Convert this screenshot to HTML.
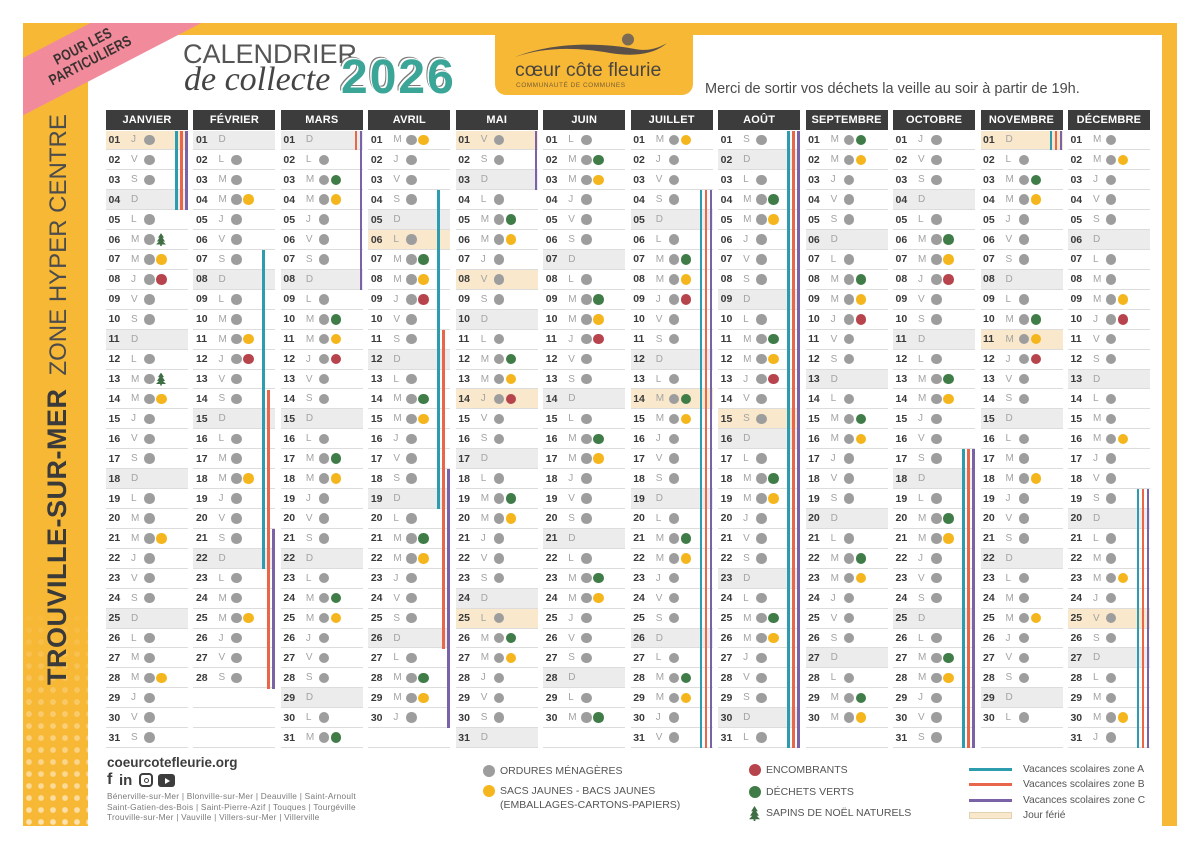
<!DOCTYPE html>
<html lang="fr"><head><meta charset="utf-8">
<style>
*{margin:0;padding:0;box-sizing:border-box}
body{width:1200px;height:849px;position:relative;overflow:hidden;background:#fff;font-family:"Liberation Sans",sans-serif}
.a{position:absolute}
#frame{left:23px;top:23px;width:1154px;height:803px;background:#f7b836}
#inner{left:88px;top:35px;width:1074px;height:791px;background:#fff}
#logo{left:495px;top:33px;width:198px;height:62px;background:#f7b836;border-radius:0 0 11px 11px}
.dots{left:23px;top:600px;width:65px;height:226px;background-image:radial-gradient(circle,rgba(255,255,255,.6) 2.6px,transparent 3.1px);background-size:12px 12px;-webkit-mask-image:linear-gradient(to bottom,transparent 0%,rgba(0,0,0,.4) 45%,#000 100%);mask-image:linear-gradient(to bottom,transparent 0%,rgba(0,0,0,.4) 45%,#000 100%)}
#clip{left:23px;top:23px;width:300px;height:200px;overflow:hidden}
#band{position:absolute;left:-136px;top:4.8px;width:400px;height:51px;background:#f18b9c;transform:rotate(-27.4deg);display:flex;flex-direction:column;align-items:center;justify-content:center}
#band span{display:block;font-weight:bold;font-size:15px;line-height:16px;color:#3b3230;transform:scaleX(.8);letter-spacing:.3px}
.vt{left:43.5px;top:685px;transform-origin:0 0;transform:rotate(-90deg);white-space:nowrap;line-height:27px;height:27px}
.vt .b1{font-weight:bold;font-size:27px;color:#3a3a3a;letter-spacing:.5px}
.vt .b2{font-size:24px;color:#4c4c4c;margin-left:13px}
.col{position:absolute;top:110px;width:82px}
.hd{height:20px;background:#3c3c3c;color:#fff;font-weight:bold;font-size:11px;text-align:center;line-height:20px;letter-spacing:.2px}
.rows{position:absolute;top:20.5px;left:0;width:82px}
.rows p{height:19.93px;border-bottom:1px solid #dcdcdc;display:flex;align-items:center;padding-left:2.5px;white-space:nowrap}
.rows p.s{background:#ececec}
.rows p.h{background:#f9e8cb}
u{text-decoration:none;font-weight:bold;font-size:10.5px;color:#3a3a3a;width:22.5px;display:inline-block}
.rows i{font-style:normal;font-size:10px;color:#a3a3a3;width:13px;display:inline-block}
.rows b{width:10.5px;height:10.5px;border-radius:50%;background:#9d9d9d;margin-right:1.5px;display:inline-block;flex:none}
b.y{background:#f4b61c!important}
b.g{background:#3f7c47!important}
b.r{background:#b7444c!important}
b.t{background:#3f6e45!important;border-radius:0!important;height:13px!important;width:10px!important;clip-path:polygon(50% 0,80% 35%,65% 35%,90% 65%,70% 65%,100% 88%,58% 88%,58% 100%,42% 100%,42% 88%,0 88%,30% 65%,10% 65%,35% 35%,20% 35%)}
.v{position:absolute;width:2.5px}
.A{background:#2d9cae;left:69px}.B{background:#e8664a;left:74px}.C{background:#7a62a6;left:79px}
.lg{font-size:10.5px;color:#555;line-height:12px;white-space:nowrap}
.ld{width:12px;height:12px;border-radius:50%}
.lz{font-size:10.2px;color:#555;line-height:12px;white-space:nowrap}
</style></head><body>
<div id="frame" class="a"></div>
<div class="a dots"></div>
<div id="inner" class="a"></div>
<div id="logo" class="a">
<svg width="198" height="62" style="position:absolute;left:0;top:0">
<path d="M20,24 C60,8 110,10 140,16 C155,19 165,14 172,10 C160,21 140,24 115,20 C80,14 50,14 20,24 Z" fill="#5a5048"/>
<circle cx="133" cy="6.5" r="6" fill="#7d6a55"/>
</svg>
<div class="a" style="left:20px;top:28px;font-size:19.5px;line-height:19px;color:#4a4540;white-space:nowrap">cœur côte fleurie</div>
<div class="a" style="left:21px;top:49px;font-size:6.5px;letter-spacing:.5px;color:#7a6030;white-space:nowrap">COMMUNAUTÉ DE COMMUNES</div>
</div>
<div id="clip" class="a"><div id="band"><span>POUR LES</span><span>PARTICULIERS</span></div></div>
<div class="a vt"><span class="b1">TROUVILLE-SUR-MER</span><span class="b2">ZONE HYPER CENTRE</span></div>

<div class="a" style="left:183px;top:41px;font-size:27px;line-height:27px;color:#555;white-space:nowrap;font-weight:300">CALENDRIER</div>
<div class="a" style="left:184px;top:62.5px;font-family:'Liberation Serif',serif;font-style:italic;font-size:34px;line-height:34px;color:#444;white-space:nowrap">de collecte</div>
<div class="a" style="left:341px;top:54.4px;font-size:48px;line-height:48px;font-weight:bold;color:#3ba597;letter-spacing:2px;text-shadow:-1.5px -1.5px 0 #fff,-2.5px -2.5px 0 #7a7a7a">2026</div>
<div class="a" style="left:705px;top:82px;font-size:14.5px;line-height:15px;color:#4a4a4a;white-space:nowrap">Merci de sortir vos déchets la veille au soir à partir de 19h.</div>

<!-- JANVIER -->
<div class="col" style="left:106px"><div class="hd">JANVIER</div><div class="rows">
<p class=h><u>01</u><i>J</i><b></b></p><p><u>02</u><i>V</i><b></b></p><p><u>03</u><i>S</i><b></b></p><p class=s><u>04</u><i>D</i></p><p><u>05</u><i>L</i><b></b></p><p><u>06</u><i>M</i><b></b><b class=t></b></p><p><u>07</u><i>M</i><b></b><b class=y></b></p><p><u>08</u><i>J</i><b></b><b class=r></b></p><p><u>09</u><i>V</i><b></b></p><p><u>10</u><i>S</i><b></b></p><p class=s><u>11</u><i>D</i></p><p><u>12</u><i>L</i><b></b></p><p><u>13</u><i>M</i><b></b><b class=t></b></p><p><u>14</u><i>M</i><b></b><b class=y></b></p><p><u>15</u><i>J</i><b></b></p><p><u>16</u><i>V</i><b></b></p><p><u>17</u><i>S</i><b></b></p><p class=s><u>18</u><i>D</i></p><p><u>19</u><i>L</i><b></b></p><p><u>20</u><i>M</i><b></b></p><p><u>21</u><i>M</i><b></b><b class=y></b></p><p><u>22</u><i>J</i><b></b></p><p><u>23</u><i>V</i><b></b></p><p><u>24</u><i>S</i><b></b></p><p class=s><u>25</u><i>D</i></p><p><u>26</u><i>L</i><b></b></p><p><u>27</u><i>M</i><b></b></p><p><u>28</u><i>M</i><b></b><b class=y></b></p><p><u>29</u><i>J</i><b></b></p><p><u>30</u><i>V</i><b></b></p><p><u>31</u><i>S</i><b></b></p>
</div>
<div class="v A" style="top:20.5px;height:79.72px"></div><div class="v B" style="top:20.5px;height:79.72px"></div><div class="v C" style="top:20.5px;height:79.72px"></div>
</div>

<!-- FEVRIER -->
<div class="col" style="left:193.45px"><div class="hd">FÉVRIER</div><div class="rows">
<p class=s><u>01</u><i>D</i></p><p><u>02</u><i>L</i><b></b></p><p><u>03</u><i>M</i><b></b></p><p><u>04</u><i>M</i><b></b><b class=y></b></p><p><u>05</u><i>J</i><b></b></p><p><u>06</u><i>V</i><b></b></p><p><u>07</u><i>S</i><b></b></p><p class=s><u>08</u><i>D</i></p><p><u>09</u><i>L</i><b></b></p><p><u>10</u><i>M</i><b></b></p><p><u>11</u><i>M</i><b></b><b class=y></b></p><p><u>12</u><i>J</i><b></b><b class=r></b></p><p><u>13</u><i>V</i><b></b></p><p><u>14</u><i>S</i><b></b></p><p class=s><u>15</u><i>D</i></p><p><u>16</u><i>L</i><b></b></p><p><u>17</u><i>M</i><b></b></p><p><u>18</u><i>M</i><b></b><b class=y></b></p><p><u>19</u><i>J</i><b></b></p><p><u>20</u><i>V</i><b></b></p><p><u>21</u><i>S</i><b></b></p><p class=s><u>22</u><i>D</i></p><p><u>23</u><i>L</i><b></b></p><p><u>24</u><i>M</i><b></b></p><p><u>25</u><i>M</i><b></b><b class=y></b></p><p><u>26</u><i>J</i><b></b></p><p><u>27</u><i>V</i><b></b></p><p><u>28</u><i>S</i><b></b></p><p></p><p></p><p></p>
</div>
<div class="v A" style="top:140.08px;height:318.88px"></div><div class="v B" style="top:279.59px;height:298.95px"></div><div class="v C" style="top:419.1px;height:159.44px"></div>
</div>

<!-- MARS -->
<div class="col" style="left:280.9px"><div class="hd">MARS</div><div class="rows">
<p class=s><u>01</u><i>D</i></p><p><u>02</u><i>L</i><b></b></p><p><u>03</u><i>M</i><b></b><b class=g></b></p><p><u>04</u><i>M</i><b></b><b class=y></b></p><p><u>05</u><i>J</i><b></b></p><p><u>06</u><i>V</i><b></b></p><p><u>07</u><i>S</i><b></b></p><p class=s><u>08</u><i>D</i></p><p><u>09</u><i>L</i><b></b></p><p><u>10</u><i>M</i><b></b><b class=g></b></p><p><u>11</u><i>M</i><b></b><b class=y></b></p><p><u>12</u><i>J</i><b></b><b class=r></b></p><p><u>13</u><i>V</i><b></b></p><p><u>14</u><i>S</i><b></b></p><p class=s><u>15</u><i>D</i></p><p><u>16</u><i>L</i><b></b></p><p><u>17</u><i>M</i><b></b><b class=g></b></p><p><u>18</u><i>M</i><b></b><b class=y></b></p><p><u>19</u><i>J</i><b></b></p><p><u>20</u><i>V</i><b></b></p><p><u>21</u><i>S</i><b></b></p><p class=s><u>22</u><i>D</i></p><p><u>23</u><i>L</i><b></b></p><p><u>24</u><i>M</i><b></b><b class=g></b></p><p><u>25</u><i>M</i><b></b><b class=y></b></p><p><u>26</u><i>J</i><b></b></p><p><u>27</u><i>V</i><b></b></p><p><u>28</u><i>S</i><b></b></p><p class=s><u>29</u><i>D</i></p><p><u>30</u><i>L</i><b></b></p><p><u>31</u><i>M</i><b></b><b class=g></b></p>
</div>
<div class="v B" style="top:20.5px;height:19.93px"></div><div class="v C" style="top:20.5px;height:159.44px"></div>
</div>

<!-- AVRIL -->
<div class="col" style="left:368.35px"><div class="hd">AVRIL</div><div class="rows">
<p><u>01</u><i>M</i><b></b><b class=y></b></p><p><u>02</u><i>J</i><b></b></p><p><u>03</u><i>V</i><b></b></p><p><u>04</u><i>S</i><b></b></p><p class=s><u>05</u><i>D</i></p><p class=h><u>06</u><i>L</i><b></b></p><p><u>07</u><i>M</i><b></b><b class=g></b></p><p><u>08</u><i>M</i><b></b><b class=y></b></p><p><u>09</u><i>J</i><b></b><b class=r></b></p><p><u>10</u><i>V</i><b></b></p><p><u>11</u><i>S</i><b></b></p><p class=s><u>12</u><i>D</i></p><p><u>13</u><i>L</i><b></b></p><p><u>14</u><i>M</i><b></b><b class=g></b></p><p><u>15</u><i>M</i><b></b><b class=y></b></p><p><u>16</u><i>J</i><b></b></p><p><u>17</u><i>V</i><b></b></p><p><u>18</u><i>S</i><b></b></p><p class=s><u>19</u><i>D</i></p><p><u>20</u><i>L</i><b></b></p><p><u>21</u><i>M</i><b></b><b class=g></b></p><p><u>22</u><i>M</i><b></b><b class=y></b></p><p><u>23</u><i>J</i><b></b></p><p><u>24</u><i>V</i><b></b></p><p><u>25</u><i>S</i><b></b></p><p class=s><u>26</u><i>D</i></p><p><u>27</u><i>L</i><b></b></p><p><u>28</u><i>M</i><b></b><b class=g></b></p><p><u>29</u><i>M</i><b></b><b class=y></b></p><p><u>30</u><i>J</i><b></b></p><p></p>
</div>
<div class="v A" style="top:80.29px;height:318.88px"></div><div class="v B" style="top:219.8px;height:318.88px"></div><div class="v C" style="top:359.31px;height:259.09px"></div>
</div>

<!-- MAI -->
<div class="col" style="left:455.8px"><div class="hd">MAI</div><div class="rows">
<p class=h><u>01</u><i>V</i><b></b></p><p><u>02</u><i>S</i><b></b></p><p class=s><u>03</u><i>D</i></p><p><u>04</u><i>L</i><b></b></p><p><u>05</u><i>M</i><b></b><b class=g></b></p><p><u>06</u><i>M</i><b></b><b class=y></b></p><p><u>07</u><i>J</i><b></b></p><p class=h><u>08</u><i>V</i><b></b></p><p><u>09</u><i>S</i><b></b></p><p class=s><u>10</u><i>D</i></p><p><u>11</u><i>L</i><b></b></p><p><u>12</u><i>M</i><b></b><b class=g></b></p><p><u>13</u><i>M</i><b></b><b class=y></b></p><p class=h><u>14</u><i>J</i><b></b><b class=r></b></p><p><u>15</u><i>V</i><b></b></p><p><u>16</u><i>S</i><b></b></p><p class=s><u>17</u><i>D</i></p><p><u>18</u><i>L</i><b></b></p><p><u>19</u><i>M</i><b></b><b class=g></b></p><p><u>20</u><i>M</i><b></b><b class=y></b></p><p><u>21</u><i>J</i><b></b></p><p><u>22</u><i>V</i><b></b></p><p><u>23</u><i>S</i><b></b></p><p class=s><u>24</u><i>D</i></p><p class=h><u>25</u><i>L</i><b></b></p><p><u>26</u><i>M</i><b></b><b class=g></b></p><p><u>27</u><i>M</i><b></b><b class=y></b></p><p><u>28</u><i>J</i><b></b></p><p><u>29</u><i>V</i><b></b></p><p><u>30</u><i>S</i><b></b></p><p class=s><u>31</u><i>D</i></p>
</div>
<div class="v C" style="top:20.5px;height:59.79px"></div>
</div>

<!-- JUIN -->
<div class="col" style="left:543.25px"><div class="hd">JUIN</div><div class="rows">
<p><u>01</u><i>L</i><b></b></p><p><u>02</u><i>M</i><b></b><b class=g></b></p><p><u>03</u><i>M</i><b></b><b class=y></b></p><p><u>04</u><i>J</i><b></b></p><p><u>05</u><i>V</i><b></b></p><p><u>06</u><i>S</i><b></b></p><p class=s><u>07</u><i>D</i></p><p><u>08</u><i>L</i><b></b></p><p><u>09</u><i>M</i><b></b><b class=g></b></p><p><u>10</u><i>M</i><b></b><b class=y></b></p><p><u>11</u><i>J</i><b></b><b class=r></b></p><p><u>12</u><i>V</i><b></b></p><p><u>13</u><i>S</i><b></b></p><p class=s><u>14</u><i>D</i></p><p><u>15</u><i>L</i><b></b></p><p><u>16</u><i>M</i><b></b><b class=g></b></p><p><u>17</u><i>M</i><b></b><b class=y></b></p><p><u>18</u><i>J</i><b></b></p><p><u>19</u><i>V</i><b></b></p><p><u>20</u><i>S</i><b></b></p><p class=s><u>21</u><i>D</i></p><p><u>22</u><i>L</i><b></b></p><p><u>23</u><i>M</i><b></b><b class=g></b></p><p><u>24</u><i>M</i><b></b><b class=y></b></p><p><u>25</u><i>J</i><b></b></p><p><u>26</u><i>V</i><b></b></p><p><u>27</u><i>S</i><b></b></p><p class=s><u>28</u><i>D</i></p><p><u>29</u><i>L</i><b></b></p><p><u>30</u><i>M</i><b></b><b class=g></b></p><p></p>
</div></div>

<!-- JUILLET -->
<div class="col" style="left:630.7px"><div class="hd">JUILLET</div><div class="rows">
<p><u>01</u><i>M</i><b></b><b class=y></b></p><p><u>02</u><i>J</i><b></b></p><p><u>03</u><i>V</i><b></b></p><p><u>04</u><i>S</i><b></b></p><p class=s><u>05</u><i>D</i></p><p><u>06</u><i>L</i><b></b></p><p><u>07</u><i>M</i><b></b><b class=g></b></p><p><u>08</u><i>M</i><b></b><b class=y></b></p><p><u>09</u><i>J</i><b></b><b class=r></b></p><p><u>10</u><i>V</i><b></b></p><p><u>11</u><i>S</i><b></b></p><p class=s><u>12</u><i>D</i></p><p><u>13</u><i>L</i><b></b></p><p class=h><u>14</u><i>M</i><b></b><b class=g></b></p><p><u>15</u><i>M</i><b></b><b class=y></b></p><p><u>16</u><i>J</i><b></b></p><p><u>17</u><i>V</i><b></b></p><p><u>18</u><i>S</i><b></b></p><p class=s><u>19</u><i>D</i></p><p><u>20</u><i>L</i><b></b></p><p><u>21</u><i>M</i><b></b><b class=g></b></p><p><u>22</u><i>M</i><b></b><b class=y></b></p><p><u>23</u><i>J</i><b></b></p><p><u>24</u><i>V</i><b></b></p><p><u>25</u><i>S</i><b></b></p><p class=s><u>26</u><i>D</i></p><p><u>27</u><i>L</i><b></b></p><p><u>28</u><i>M</i><b></b><b class=g></b></p><p><u>29</u><i>M</i><b></b><b class=y></b></p><p><u>30</u><i>J</i><b></b></p><p><u>31</u><i>V</i><b></b></p>
</div>
<div class="v A" style="top:80.29px;height:558.04px"></div><div class="v B" style="top:80.29px;height:558.04px"></div><div class="v C" style="top:80.29px;height:558.04px"></div>
</div>

<!-- AOUT -->
<div class="col" style="left:718.15px"><div class="hd">AOÛT</div><div class="rows">
<p><u>01</u><i>S</i><b></b></p><p class=s><u>02</u><i>D</i></p><p><u>03</u><i>L</i><b></b></p><p><u>04</u><i>M</i><b></b><b class=g></b></p><p><u>05</u><i>M</i><b></b><b class=y></b></p><p><u>06</u><i>J</i><b></b></p><p><u>07</u><i>V</i><b></b></p><p><u>08</u><i>S</i><b></b></p><p class=s><u>09</u><i>D</i></p><p><u>10</u><i>L</i><b></b></p><p><u>11</u><i>M</i><b></b><b class=g></b></p><p><u>12</u><i>M</i><b></b><b class=y></b></p><p><u>13</u><i>J</i><b></b><b class=r></b></p><p><u>14</u><i>V</i><b></b></p><p class=h><u>15</u><i>S</i><b></b></p><p class=s><u>16</u><i>D</i></p><p><u>17</u><i>L</i><b></b></p><p><u>18</u><i>M</i><b></b><b class=g></b></p><p><u>19</u><i>M</i><b></b><b class=y></b></p><p><u>20</u><i>J</i><b></b></p><p><u>21</u><i>V</i><b></b></p><p><u>22</u><i>S</i><b></b></p><p class=s><u>23</u><i>D</i></p><p><u>24</u><i>L</i><b></b></p><p><u>25</u><i>M</i><b></b><b class=g></b></p><p><u>26</u><i>M</i><b></b><b class=y></b></p><p><u>27</u><i>J</i><b></b></p><p><u>28</u><i>V</i><b></b></p><p><u>29</u><i>S</i><b></b></p><p class=s><u>30</u><i>D</i></p><p><u>31</u><i>L</i><b></b></p>
</div>
<div class="v A" style="top:20.5px;height:617.83px"></div><div class="v B" style="top:20.5px;height:617.83px"></div><div class="v C" style="top:20.5px;height:617.83px"></div>
</div>

<!-- SEPTEMBRE -->
<div class="col" style="left:805.6px"><div class="hd">SEPTEMBRE</div><div class="rows">
<p><u>01</u><i>M</i><b></b><b class=g></b></p><p><u>02</u><i>M</i><b></b><b class=y></b></p><p><u>03</u><i>J</i><b></b></p><p><u>04</u><i>V</i><b></b></p><p><u>05</u><i>S</i><b></b></p><p class=s><u>06</u><i>D</i></p><p><u>07</u><i>L</i><b></b></p><p><u>08</u><i>M</i><b></b><b class=g></b></p><p><u>09</u><i>M</i><b></b><b class=y></b></p><p><u>10</u><i>J</i><b></b><b class=r></b></p><p><u>11</u><i>V</i><b></b></p><p><u>12</u><i>S</i><b></b></p><p class=s><u>13</u><i>D</i></p><p><u>14</u><i>L</i><b></b></p><p><u>15</u><i>M</i><b></b><b class=g></b></p><p><u>16</u><i>M</i><b></b><b class=y></b></p><p><u>17</u><i>J</i><b></b></p><p><u>18</u><i>V</i><b></b></p><p><u>19</u><i>S</i><b></b></p><p class=s><u>20</u><i>D</i></p><p><u>21</u><i>L</i><b></b></p><p><u>22</u><i>M</i><b></b><b class=g></b></p><p><u>23</u><i>M</i><b></b><b class=y></b></p><p><u>24</u><i>J</i><b></b></p><p><u>25</u><i>V</i><b></b></p><p><u>26</u><i>S</i><b></b></p><p class=s><u>27</u><i>D</i></p><p><u>28</u><i>L</i><b></b></p><p><u>29</u><i>M</i><b></b><b class=g></b></p><p><u>30</u><i>M</i><b></b><b class=y></b></p><p></p>
</div></div>

<!-- OCTOBRE -->
<div class="col" style="left:893.05px"><div class="hd">OCTOBRE</div><div class="rows">
<p><u>01</u><i>J</i><b></b></p><p><u>02</u><i>V</i><b></b></p><p><u>03</u><i>S</i><b></b></p><p class=s><u>04</u><i>D</i></p><p><u>05</u><i>L</i><b></b></p><p><u>06</u><i>M</i><b></b><b class=g></b></p><p><u>07</u><i>M</i><b></b><b class=y></b></p><p><u>08</u><i>J</i><b></b><b class=r></b></p><p><u>09</u><i>V</i><b></b></p><p><u>10</u><i>S</i><b></b></p><p class=s><u>11</u><i>D</i></p><p><u>12</u><i>L</i><b></b></p><p><u>13</u><i>M</i><b></b><b class=g></b></p><p><u>14</u><i>M</i><b></b><b class=y></b></p><p><u>15</u><i>J</i><b></b></p><p><u>16</u><i>V</i><b></b></p><p><u>17</u><i>S</i><b></b></p><p class=s><u>18</u><i>D</i></p><p><u>19</u><i>L</i><b></b></p><p><u>20</u><i>M</i><b></b><b class=g></b></p><p><u>21</u><i>M</i><b></b><b class=y></b></p><p><u>22</u><i>J</i><b></b></p><p><u>23</u><i>V</i><b></b></p><p><u>24</u><i>S</i><b></b></p><p class=s><u>25</u><i>D</i></p><p><u>26</u><i>L</i><b></b></p><p><u>27</u><i>M</i><b></b><b class=g></b></p><p><u>28</u><i>M</i><b></b><b class=y></b></p><p><u>29</u><i>J</i><b></b></p><p><u>30</u><i>V</i><b></b></p><p><u>31</u><i>S</i><b></b></p>
</div>
<div class="v A" style="top:339.38px;height:298.95px"></div><div class="v B" style="top:339.38px;height:298.95px"></div><div class="v C" style="top:339.38px;height:298.95px"></div>
</div>

<!-- NOVEMBRE -->
<div class="col" style="left:980.5px"><div class="hd">NOVEMBRE</div><div class="rows">
<p class=h><u>01</u><i>D</i></p><p><u>02</u><i>L</i><b></b></p><p><u>03</u><i>M</i><b></b><b class=g></b></p><p><u>04</u><i>M</i><b></b><b class=y></b></p><p><u>05</u><i>J</i><b></b></p><p><u>06</u><i>V</i><b></b></p><p><u>07</u><i>S</i><b></b></p><p class=s><u>08</u><i>D</i></p><p><u>09</u><i>L</i><b></b></p><p><u>10</u><i>M</i><b></b><b class=g></b></p><p class=h><u>11</u><i>M</i><b></b><b class=y></b></p><p><u>12</u><i>J</i><b></b><b class=r></b></p><p><u>13</u><i>V</i><b></b></p><p><u>14</u><i>S</i><b></b></p><p class=s><u>15</u><i>D</i></p><p><u>16</u><i>L</i><b></b></p><p><u>17</u><i>M</i><b></b></p><p><u>18</u><i>M</i><b></b><b class=y></b></p><p><u>19</u><i>J</i><b></b></p><p><u>20</u><i>V</i><b></b></p><p><u>21</u><i>S</i><b></b></p><p class=s><u>22</u><i>D</i></p><p><u>23</u><i>L</i><b></b></p><p><u>24</u><i>M</i><b></b></p><p><u>25</u><i>M</i><b></b><b class=y></b></p><p><u>26</u><i>J</i><b></b></p><p><u>27</u><i>V</i><b></b></p><p><u>28</u><i>S</i><b></b></p><p class=s><u>29</u><i>D</i></p><p><u>30</u><i>L</i><b></b></p><p></p>
</div>
<div class="v A" style="top:20.5px;height:19.93px"></div><div class="v B" style="top:20.5px;height:19.93px"></div><div class="v C" style="top:20.5px;height:19.93px"></div>
</div>

<!-- DECEMBRE -->
<div class="col" style="left:1067.95px"><div class="hd">DÉCEMBRE</div><div class="rows">
<p><u>01</u><i>M</i><b></b></p><p><u>02</u><i>M</i><b></b><b class=y></b></p><p><u>03</u><i>J</i><b></b></p><p><u>04</u><i>V</i><b></b></p><p><u>05</u><i>S</i><b></b></p><p class=s><u>06</u><i>D</i></p><p><u>07</u><i>L</i><b></b></p><p><u>08</u><i>M</i><b></b></p><p><u>09</u><i>M</i><b></b><b class=y></b></p><p><u>10</u><i>J</i><b></b><b class=r></b></p><p><u>11</u><i>V</i><b></b></p><p><u>12</u><i>S</i><b></b></p><p class=s><u>13</u><i>D</i></p><p><u>14</u><i>L</i><b></b></p><p><u>15</u><i>M</i><b></b></p><p><u>16</u><i>M</i><b></b><b class=y></b></p><p><u>17</u><i>J</i><b></b></p><p><u>18</u><i>V</i><b></b></p><p><u>19</u><i>S</i><b></b></p><p class=s><u>20</u><i>D</i></p><p><u>21</u><i>L</i><b></b></p><p><u>22</u><i>M</i><b></b></p><p><u>23</u><i>M</i><b></b><b class=y></b></p><p><u>24</u><i>J</i><b></b></p><p class=h><u>25</u><i>V</i><b></b></p><p><u>26</u><i>S</i><b></b></p><p class=s><u>27</u><i>D</i></p><p><u>28</u><i>L</i><b></b></p><p><u>29</u><i>M</i><b></b></p><p><u>30</u><i>M</i><b></b><b class=y></b></p><p><u>31</u><i>J</i><b></b></p>
</div>
<div class="v A" style="top:379.24px;height:259.09px"></div><div class="v B" style="top:379.24px;height:259.09px"></div><div class="v C" style="top:379.24px;height:259.09px"></div>
</div>

<!-- Footer left -->
<div class="a" style="left:107px;top:756px;font-size:13.5px;line-height:14px;font-weight:bold;color:#3d3d3d;white-space:nowrap">coeurcotefleurie.org</div>
<div class="a" style="left:107px;top:771px;font-size:16px;line-height:17px;font-weight:bold;color:#3d3d3d">f</div>
<div class="a" style="left:119px;top:772px;font-size:15px;line-height:17px;font-weight:bold;color:#3d3d3d">in</div>
<div class="a" style="left:139px;top:773px;width:14px;height:14px;border:2px solid #3d3d3d;border-radius:4px"><div class="a" style="left:2.5px;top:2.5px;width:5px;height:5px;border:1.5px solid #3d3d3d;border-radius:50%"></div></div>
<div class="a" style="left:158px;top:774px;width:17px;height:13px;background:#3d3d3d;border-radius:3px"><div class="a" style="left:6.5px;top:3.5px;width:0;height:0;border-left:5px solid #fff;border-top:3px solid transparent;border-bottom:3px solid transparent"></div></div>
<div class="a" style="left:107px;top:791px;font-size:8.3px;line-height:10.5px;letter-spacing:.25px;color:#7a7a7a;white-space:nowrap">Bénerville-sur-Mer | Blonville-sur-Mer | Deauville | Saint-Arnoult<br>Saint-Gatien-des-Bois | Saint-Pierre-Azif | Touques | Tourgéville<br>Trouville-sur-Mer | Vauville | Villers-sur-Mer | Villerville</div>

<!-- Legend -->
<div class="a ld" style="left:483px;top:765px;background:#9d9d9d"></div>
<div class="a lg" style="left:500px;top:765px">ORDURES MÉNAGÈRES</div>
<div class="a ld" style="left:483px;top:785px;background:#f4b61c"></div>
<div class="a lg" style="left:500px;top:785px">SACS JAUNES - BACS JAUNES</div>
<div class="a lg" style="left:500px;top:799px">(EMBALLAGES-CARTONS-PAPIERS)</div>
<div class="a ld" style="left:749px;top:764px;background:#b7444c"></div>
<div class="a lg" style="left:766px;top:764px">ENCOMBRANTS</div>
<div class="a ld" style="left:749px;top:786px;background:#3f7c47"></div>
<div class="a lg" style="left:766px;top:786px">DÉCHETS VERTS</div>
<div class="a" style="left:749px;top:806px;width:11px;height:15px;background:#3f6e45;clip-path:polygon(50% 0,80% 35%,65% 35%,90% 65%,70% 65%,100% 88%,58% 88%,58% 100%,42% 100%,42% 88%,0 88%,30% 65%,10% 65%,35% 35%,20% 35%)"></div>
<div class="a lg" style="left:766px;top:807px">SAPINS DE NOËL NATURELS</div>

<div class="a" style="left:969px;top:768px;width:43px;height:3px;background:#2d9cae"></div>
<div class="a lz" style="left:1023px;top:764px">Vacances scolaires zone A</div>
<div class="a" style="left:969px;top:783px;width:43px;height:3px;background:#e8664a"></div>
<div class="a lz" style="left:1023px;top:779px">Vacances scolaires zone B</div>
<div class="a" style="left:969px;top:799px;width:43px;height:3px;background:#7a62a6"></div>
<div class="a lz" style="left:1023px;top:795px">Vacances scolaires zone C</div>
<div class="a" style="left:969px;top:812px;width:43px;height:7px;background:#f9e8cb;border:1px solid #e2d2b2"></div>
<div class="a lz" style="left:1023px;top:810px">Jour férié</div>
</body></html>
